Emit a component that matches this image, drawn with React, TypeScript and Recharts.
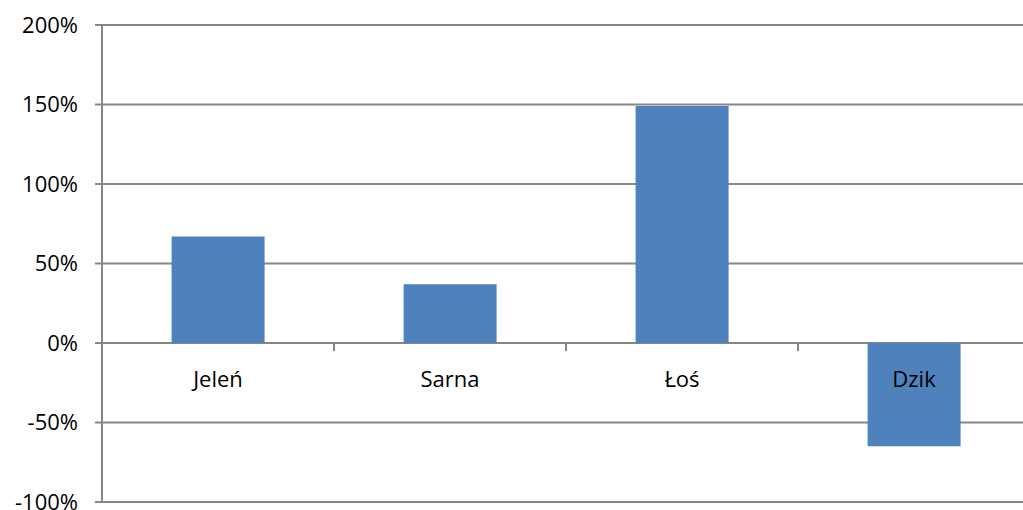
import { BarChart, Bar, XAxis, YAxis, CartesianGrid } from "recharts";

const categories = ["Jeleń", "Sarna", "Łoś", "Dzik"];
const values = [0.67, 0.37, 1.49, -0.65];
const yTicks = [-1, -0.5, 0, 0.5, 1, 1.5, 2];

const data = categories.map((name, i) => ({ name, value: values[i] }));

const W = 1040;
const H = 510;
const M = { top: 25, right: 10, bottom: 7, left: 0 };
const X_AXIS_H = 1;
const Y_MIN = -1;
const Y_MAX = 2;
const FONT = "'Open Sans', Lato, sans-serif";

const plotH = H - M.top - M.bottom - X_AXIS_H;
const zeroY = M.top + (plotH * (Y_MAX - 0)) / (Y_MAX - Y_MIN);
const band = (W - M.left - M.right - 102) / categories.length;

function CatTick(props: any) {
  const { x, index, payload } = props;
  const left = x - band / 2;
  return (
    <g>
      <line x1={left} x2={left} y1={zeroY} y2={zeroY + 8} stroke="#868686" strokeWidth={2} />
      {index === categories.length - 1 && (
        <line x1={left + band} x2={left + band} y1={zeroY} y2={zeroY + 8} stroke="#868686" strokeWidth={2} />
      )}
      <text x={x} y={zeroY + 44} textAnchor="middle" fontSize={22} fontFamily={FONT} fill="#000">
        {payload.value}
      </text>
    </g>
  );
}

export default function App() {
  return (
    <div style={{ position: "absolute", left: 0, top: 0, width: 1023, height: 510, overflow: "hidden", background: "#fff" }}>
      <BarChart width={W} height={H} data={data} margin={M} barCategoryGap="30%">
        <CartesianGrid vertical={false} stroke="#868686" strokeWidth={2} />
        <XAxis
          dataKey="name"
          height={X_AXIS_H}
          axisLine={false}
          tickLine={false}
          tick={(p: any) => <CatTick {...p} />}
          interval={0}
        />
        <YAxis
          width={102}
          domain={[Y_MIN, Y_MAX]}
          ticks={yTicks}
          interval={0}
          tickFormatter={(v: number) => `${Math.round(v * 100)}%`}
          axisLine={{ stroke: "#868686", strokeWidth: 2 }}
          tickLine={{ stroke: "#868686", strokeWidth: 2 }}
          tickSize={7}
          tickMargin={17}
          tick={{ fontSize: 22, fontFamily: FONT, fill: "#000" }}
        />
        <Bar dataKey="value" fill="#4F81BD" isAnimationActive={false} />
      </BarChart>
    </div>
  );
}
